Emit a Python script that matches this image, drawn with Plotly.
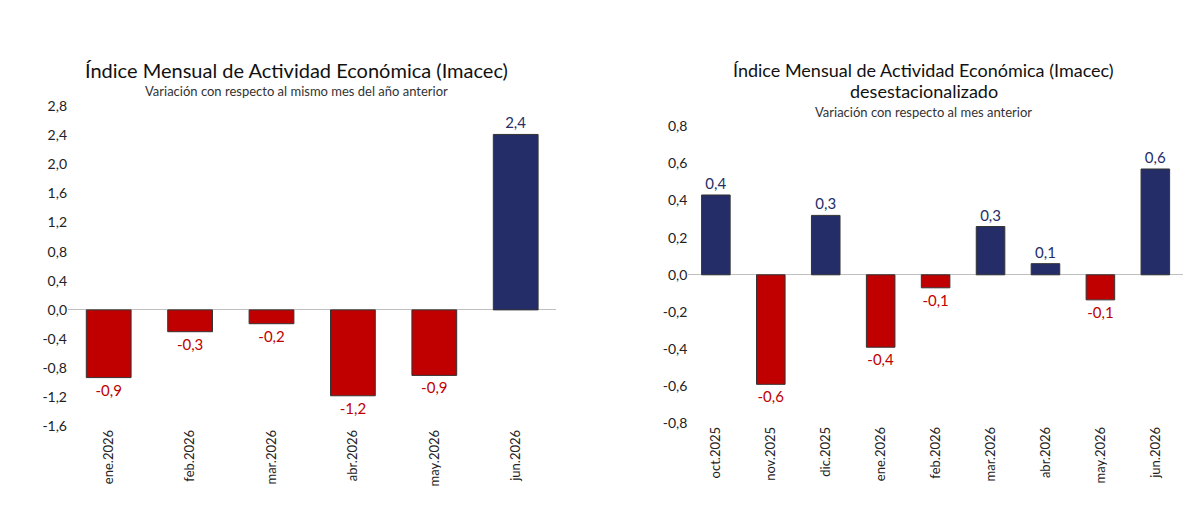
import plotly.graph_objects as go

# Imacec, variación anual
meses_a = ['ene.2026', 'feb.2026', 'mar.2026', 'abr.2026', 'may.2026', 'jun.2026']
var_a = [-0.93, -0.30, -0.19, -1.18, -0.90, 2.41]
etiq_a = ['-0,9', '-0,3', '-0,2', '-1,2', '-0,9', '2,4']

# Imacec desestacionalizado, variación mensual
meses_b = ['oct.2025', 'nov.2025', 'dic.2025', 'ene.2026', 'feb.2026',
           'mar.2026', 'abr.2026', 'may.2026', 'jun.2026']
var_b = [0.43, -0.59, 0.32, -0.39, -0.07, 0.26, 0.06, -0.135, 0.57]
etiq_b = ['0,4', '-0,6', '0,3', '-0,4', '-0,1', '0,3', '0,1', '-0,1', '0,6']

ticks_a = [-1.6, -1.2, -0.8, -0.4, 0.0, 0.4, 0.8, 1.2, 1.6, 2.0, 2.4, 2.8]
ticks_b = [-0.8, -0.6, -0.4, -0.2, 0.0, 0.2, 0.4, 0.6, 0.8]

AZUL = '#252d69'
ROJO = '#c00000'
FONT = 'Lato'


def colores(vals):
    return [AZUL if v >= 0 else ROJO for v in vals]


def fmt(t):
    return f'{t:.1f}'.replace('.', ',')


fig = go.Figure()
fig.add_trace(go.Bar(
    x=meses_a, y=var_a, text=etiq_a, textposition='outside',
    marker=dict(color=colores(var_a), line=dict(color='#333333', width=1)),
    textfont=dict(color=colores(var_a), size=15, family=FONT),
    width=0.55, cliponaxis=False, xaxis='x', yaxis='y'))
fig.add_trace(go.Bar(
    x=meses_b, y=var_b, text=etiq_b, textposition='outside',
    marker=dict(color=colores(var_b), line=dict(color='#333333', width=1)),
    textfont=dict(color=colores(var_b), size=15, family=FONT),
    width=0.52, cliponaxis=False, xaxis='x2', yaxis='y2'))

ax_common = dict(showgrid=False, zeroline=False, showline=False, ticks='',
                 tickangle=-90, tickfont=dict(size=13, color='#222', family=FONT))
y_common = dict(showgrid=False, showline=False, zeroline=True,
                zerolinecolor='#bfbfbf', zerolinewidth=1,
                tickfont=dict(size=14, color='#222', family=FONT))


def nota(texto, x, y, size, color='#111'):
    return dict(text=texto, x=x, y=y, xref='paper', yref='paper', showarrow=False,
                xanchor='center', yanchor='middle', font=dict(size=size, color=color))


fig.update_layout(
    width=1200, height=523, showlegend=False,
    plot_bgcolor='white', paper_bgcolor='white',
    margin=dict(l=0, r=0, t=0, b=0),
    xaxis=dict(domain=[0.05, 0.457], anchor='y', **ax_common),
    yaxis=dict(domain=[0.191, 0.824], range=[-1.6, 2.8], anchor='x',
               tickvals=ticks_a, ticktext=[fmt(t) for t in ticks_a], **y_common),
    xaxis2=dict(domain=[0.567, 0.979], anchor='y2', **ax_common),
    yaxis2=dict(domain=[0.197, 0.784], range=[-0.8, 0.8], anchor='x2',
                tickvals=ticks_b, ticktext=[fmt(t) for t in ticks_b], **y_common),
    font=dict(family=FONT),
    annotations=[
        nota('Índice Mensual de Actividad Económica (Imacec)', 0.24, 0.895, 20),
        nota('Variación con respecto al mismo mes del año anterior', 0.24, 0.853, 13, '#333'),
        nota('Índice Mensual de Actividad Económica (Imacec)', 0.763, 0.895, 18),
        nota('desestacionalizado', 0.763, 0.853, 18),
        nota('Variación con respecto al mes anterior', 0.763, 0.812, 13, '#333'),
    ],
)

fig.write_html('out.html')
